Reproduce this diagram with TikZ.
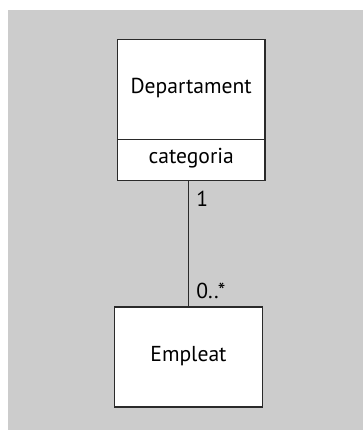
\documentclass[tikz,border=0pt]{standalone}
\usepackage{fontspec}
\setmainfont{PT Sans}
\definecolor{panel}{HTML}{CCCCCC}
\definecolor{ink}{HTML}{2A2A2A}
\begin{document}
\begin{tikzpicture}[x=0.75pt,y=-0.75pt,
  box/.style={draw=ink,line width=1.1pt,fill=white},
  lbl/.style={font=\fontsize{16.2}{18}\selectfont,text=black,inner sep=0pt},
  link/.style={draw=ink,line width=1pt}]
  \useasboundingbox (0,0) rectangle (363,430);
  \fill[panel] (8,10) rectangle (363,430);
  % class Departament with its attribute compartment
  \draw[box] (117.3,39.3) rectangle (265,180.3);
  \draw[ink,line width=1pt] (117.3,139.3) -- (265,139.3);
  \node[lbl] (dep) at (191.2,88) {Departament};
  \node[lbl] (cat) at (191.2,158) {categoria};
  \coordinate (depbot) at (188.7,180.3);
  % class Empleat
  \draw[box] (114.7,307) rectangle (262.3,407);
  \node[lbl] (emp) at (188.5,356) {Empleat};
  \coordinate (emptop) at (188.7,307);
  % association with multiplicities
  \draw[link] (depbot) -- (emptop);
  \node[lbl,anchor=west] (m1) at (196,199.3) {1};
  \node[lbl,anchor=west] (m2) at (196,290.7) {0..*};
\end{tikzpicture}
\end{document}
